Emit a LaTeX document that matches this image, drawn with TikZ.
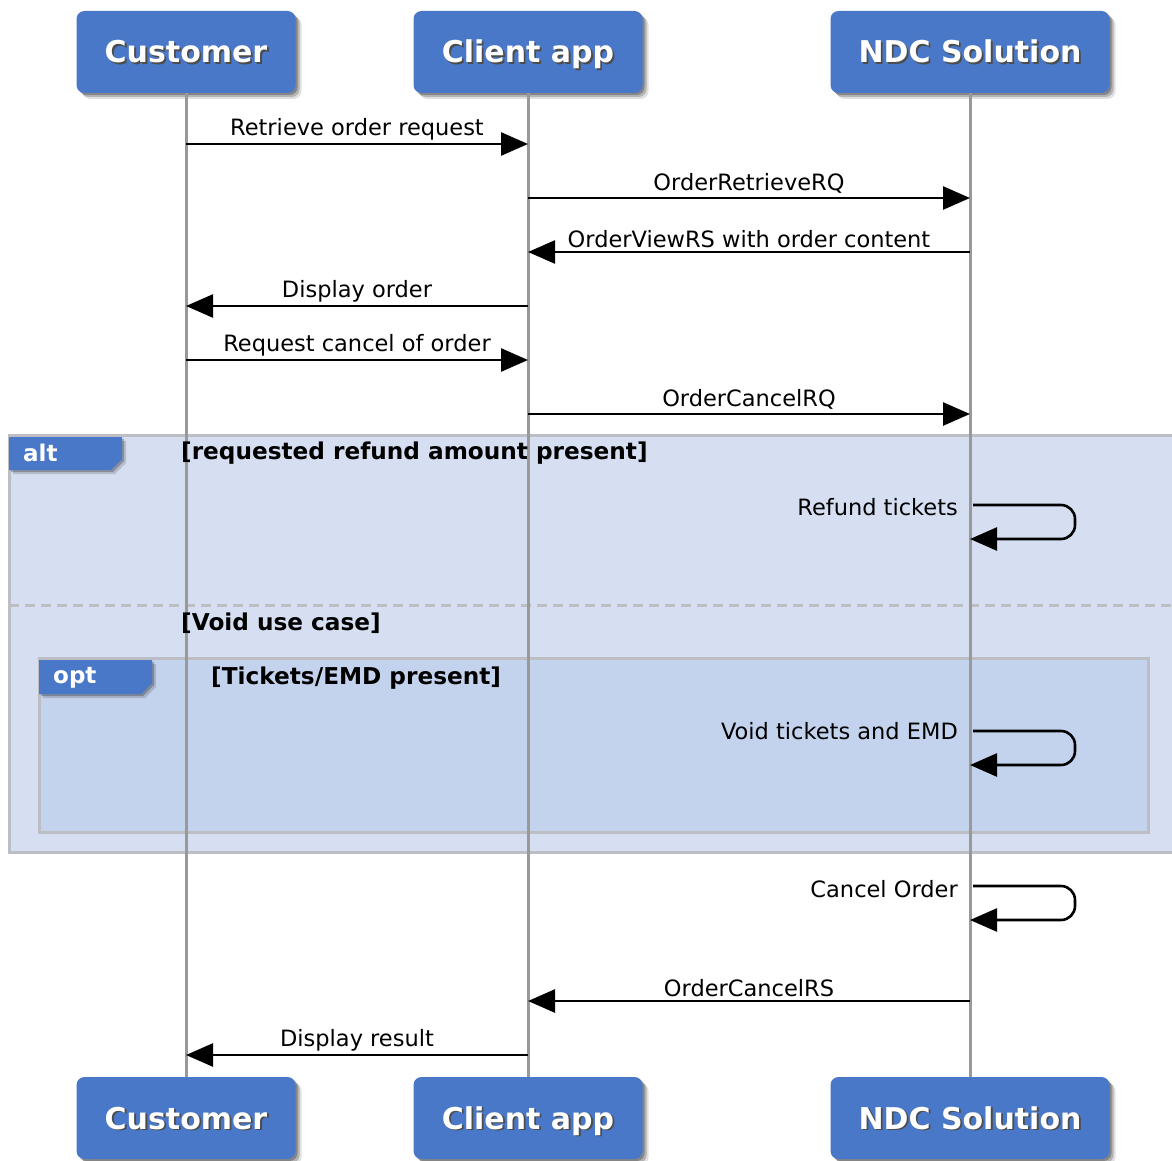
\documentclass[tikz,border=0pt]{standalone}
\usepackage{fontspec}
\setmainfont{DejaVu Sans}
\usetikzlibrary{shadows,arrows.meta}
\definecolor{headblue}{HTML}{4A78C8}
\definecolor{altfill}{HTML}{D6DFF2}
\definecolor{optfill}{HTML}{C4D3ED}
\definecolor{framegray}{HTML}{BCBEC4}
\definecolor{lifegray}{HTML}{999999}
\newcommand{\shtxt}[1]{\makebox[0pt][l]{\hspace{1.8pt}\raisebox{-1.8pt}{\textcolor{black!70}{#1}}}#1}
\tikzset{
  softshadow/.style={
    drop shadow={shadow xshift=2pt, shadow yshift=-2pt, opacity=0.25, fill=black},
    drop shadow={shadow xshift=4pt, shadow yshift=-4pt, opacity=0.2, fill=black},
    drop shadow={shadow xshift=6pt, shadow yshift=-6pt, opacity=0.12, fill=black}},
  head/.style={fill=headblue, rounded corners=8pt, minimum height=82pt, text=white,
    font=\fontsize{30}{34}\selectfont\bfseries, inner sep=0pt,
    text height=22pt, text depth=0pt, softshadow},
  lifeline/.style={draw=lifegray, line width=3pt},
  msg/.style={line width=2.6pt, -{Triangle[length=27pt,width=23pt]}},
  selfmsg/.style={msg, rounded corners=14pt},
  msglabel/.style={above, inner sep=3pt, font=\fontsize{22.5}{27}\selectfont},
  selflabel/.style={anchor=east, inner sep=0pt, font=\fontsize{22.5}{27}\selectfont},
  cond/.style={anchor=west, inner sep=0pt, font=\fontsize{23.2}{27}\selectfont\bfseries},
  tab/.style={fill=headblue,
    drop shadow={shadow xshift=2pt, shadow yshift=-2pt, opacity=0.25, fill=black},
    drop shadow={shadow xshift=4pt, shadow yshift=-4pt, opacity=0.15, fill=black}},
  tabtext/.style={anchor=west, inner sep=0pt, text=white, font=\fontsize{23}{26}\selectfont\bfseries},
  frame/.style={draw=framegray, line width=3pt}
}
\begin{document}
\begin{tikzpicture}[x=1pt,y=-1pt]
\useasboundingbox (0,0) rectangle (1172,1161);
\fill[white] (0,0) rectangle (1172,1161);
% alt frame
\path[frame, fill=altfill] (9,435) rectangle (1190,852);
\draw[framegray, line width=3pt, dash pattern=on 10pt off 6pt] (9,605) -- (1172,605);
% opt frame
\path[frame, fill=optfill] (39,658) rectangle (1148,832);
% heads
\node[head, minimum width=219pt] (cT) at (186,52) {\shtxt{Customer}};
\node[head, minimum width=229pt] (aT) at (528,52) {\shtxt{Client app}};
\node[head, minimum width=279pt] (nT) at (970,52) {\shtxt{NDC Solution}};
\node[head, minimum width=219pt] (cB) at (186,1118) {\shtxt{Customer}};
\node[head, minimum width=229pt] (aB) at (528,1118) {\shtxt{Client app}};
\node[head, minimum width=279pt] (nB) at (970,1118) {\shtxt{NDC Solution}};
% lifelines
\draw[lifeline] (cT.south) -- (cB.north);
\draw[lifeline] (aT.south) -- (aB.north);
\draw[lifeline] (nT.south) -- (nB.north);
% tabs
\path[tab] (9,437) -- (122,437) -- (122,459) -- (111,470) -- (9,470) -- cycle;
\node[tabtext] (alttxt) at (23,453) {alt};
\path[tab] (39,660) -- (152,660) -- (152,683) -- (141,694) -- (39,694) -- cycle;
\node[tabtext] (opttxt) at (53,678) {opt};
% conditions
\node[cond] (c1) at (181,453) {[requested refund amount present]};
\node[cond] (c2) at (181,623) {[Void use case]};
\node[cond] (c3) at (211,678) {[Tickets/EMD present]};
% messages
\draw[msg] (cT |- 0,144) -- node[msglabel] {Retrieve order request} (aT |- 0,144);
\draw[msg] (aT |- 0,198) -- node[msglabel] {OrderRetrieveRQ} (nT |- 0,198);
\draw[msg] (nT |- 0,252) -- node[msglabel] {OrderViewRS with order content} (aT |- 0,252);
\draw[msg] (aT |- 0,306) -- node[msglabel] {Display order} (cT |- 0,306);
\draw[msg] (cT |- 0,360) -- node[msglabel] {Request cancel of order} (aT |- 0,360);
\draw[msg] (aT |- 0,414) -- node[msglabel] {OrderCancelRQ} (nT |- 0,414);
% self messages
\draw[selfmsg] ([xshift=3pt]nT |- 0,505) -- ++(102,0) |- (nT |- 0,539);
\node[selflabel] (l1) at (958,507) {Refund tickets};
\draw[selfmsg] ([xshift=3pt]nT |- 0,731) -- ++(102,0) |- (nT |- 0,765);
\node[selflabel] (l2) at (958,731) {Void tickets and EMD};
\draw[selfmsg] ([xshift=3pt]nT |- 0,886) -- ++(102,0) |- (nT |- 0,920);
\node[selflabel] (l3) at (958,889) {Cancel Order};
\draw[msg] (nT |- 0,1001) -- node[msglabel] {OrderCancelRS} (aT |- 0,1001);
\draw[msg] (aT |- 0,1055) -- node[msglabel] {Display result} (cT |- 0,1055);
\end{tikzpicture}
\end{document}
